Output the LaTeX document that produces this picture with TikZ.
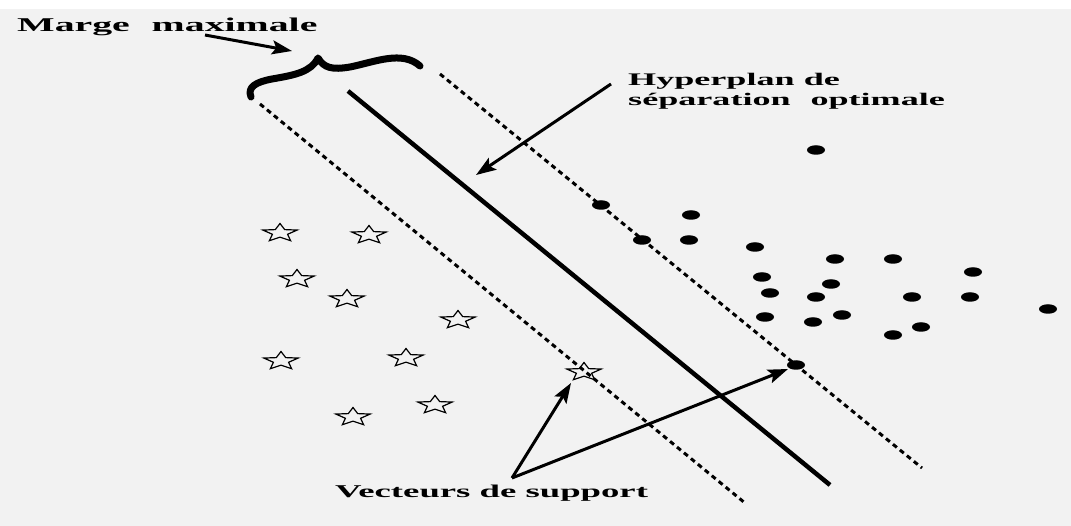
\documentclass[tikz,border=0pt]{standalone}
\usepackage{fontspec}
\setmainfont{Liberation Serif}
\usetikzlibrary{arrows.meta,shapes.geometric}
\definecolor{bg}{RGB}{242,242,242}
\tikzset{
  lbl/.style={inner sep=0pt, font=\bfseries},
  dotline/.style={line width=3pt, dash pattern=on 5pt off 4pt},
  hyper/.style={line width=4.5pt},
  ptr/.style={line width=3pt, -{Stealth[length=20pt,width=14pt,inset=4pt]}},
  dotpt/.style={ellipse, fill=black, minimum width=18pt, minimum height=9.5pt, inner sep=0pt},
  starln/.style={line width=1.2pt, line join=miter},
  bracestyle/.style={line width=7pt, line cap=round, line join=round}
}
\begin{document}
\begin{tikzpicture}[x=1pt,y=-1pt]
\useasboundingbox (0,0) rectangle (1071,526);
\fill[bg] (0,0) rectangle (1071,526);
\fill[white] (0,0) rectangle (1071,9);

% lines
\coordinate (l1) at (260,104); \coordinate (l2) at (745,503);
\coordinate (h1) at (348,91);  \coordinate (h2) at (830,485);
\coordinate (r1) at (440,74);  \coordinate (r2) at (922,468);
\draw[dotline] (l1) -- (l2);
\draw[hyper] (h1) -- (h2);
\draw[dotline] (r1) -- (r2);

% brace
\draw[bracestyle] (251,97) .. controls (247,87) and (256,82) .. (272,79)
  .. controls (295,75) and (311,72) .. (318,58)
  .. controls (324,68) and (332,70) .. (350,67)
  .. controls (375,62) and (402,50) .. (420,66);

% texts
\node[lbl, anchor=base west] (marge) at (17,32)
  {\scalebox{2.04}[1]{\fontsize{19.5}{22}\selectfont Marge\hspace{0.55em}maximale}};
\node[lbl, anchor=base west] (hypA) at (628,86)
  {\scalebox{2.04}[1]{\fontsize{17.7}{20}\selectfont Hyperplan de}};
\node[lbl, anchor=base west] (hypB) at (628,106)
  {\scalebox{2.04}[1]{\fontsize{17.7}{20}\selectfont séparation\hspace{0.55em}optimale}};
\node[lbl, anchor=base west] (vect) at (335,497)
  {\scalebox{2.04}[1]{\fontsize{18}{20}\selectfont Vecteurs de support}};

% dots
\foreach \x/\y [count=\i] in {816/150,601/205,691/215,642/240,689/240,755/247,835/259,893/259,973/272,762/277,831/284,770/293,816/297,912/297,970/297,1048/309,765/317,813/322,842/315,893/335,921/327,796/365}
  \node[dotpt] (d\i) at (\x,\y) {};

% stars
\foreach \x/\y in {280/232,369/234,297/278,347/298,458/319,281/360,406/357,584/371,435/404,353/416}{
  \begin{scope}[shift={(\x,\y+1)}, xscale=1.9]
    \draw[starln] (-90:9.5) \foreach \k in {0,...,4} { -- ({-90+72*\k}:9.5) -- ({-54+72*\k}:4.2) } -- cycle;
  \end{scope}
}

% arrows
\coordinate (ma) at (205,35); \coordinate (mb) at (292,51);
\draw[ptr] (ma) -- (mb);
\coordinate (ha) at (611,84); \coordinate (hb) at (476,175);
\draw[ptr] (ha) -- (hb);
\coordinate (va) at (512,478);
\coordinate (sv1) at (571,383); \coordinate (sv2) at (788,369);
\draw[ptr] (va) -- (sv1);
\draw[ptr] (va) -- (sv2);
\end{tikzpicture}
\end{document}
